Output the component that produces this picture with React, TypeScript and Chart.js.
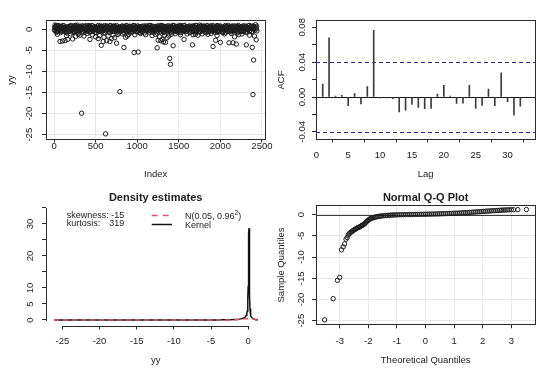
import React, { useEffect, useRef } from 'react';
import { Chart, registerables } from 'chart.js';
Chart.register(...registerables);

const W = 540;
const H = 371;
const FONT = '"Liberation Sans", Arial, Helvetica, sans-serif';
const INK = '#1c1c1c';
const AXIS = '#2b2b2b';
const GRID = '#e8e8e8';

// ---------------- data ----------------
// top-left: series yy against its index (dense core sampled on two interleaved index grids + outliers)
const yyCoreStep = 8;
const yyCoreAStart = 8;
const yyCoreA = [
  0.4, -0.3, 0.7, 0.1, -0.6, 0.9, 0.2, -0.1, 0.5, -0.8,
  0.3, 0.6, -0.4, 0.0, 0.8, -0.2, 0.4, -0.7, 0.2, 0.6,
  -0.5, 0.1, 0.7, -0.3, 0.5, 0.9, -0.1, 0.3, -0.6, 0.2,
  0.8, -0.4, 0.0, 0.6, -0.2, 0.4, -0.9, 0.3, 0.7, -0.1,
  0.2, 0.5, -0.6, 0.8, 0.1, -0.3, 0.6, 0.0, -0.5, 0.4,
  0.7, -0.2, 0.3, -0.7, 0.5, 0.1, 0.9, -0.4, 0.2, 0.6,
  -0.1, 0.4, -0.8, 0.3, 0.7, -0.3, 0.0, 0.5, -0.5, 0.8,
  0.1, -0.6, 0.6, 0.2, -0.2, 0.9, 0.3, -0.4, 0.5, 0.0,
  0.6, -0.1, 0.3, -0.7, 0.8, 0.2, -0.3, 0.4, 0.7, -0.5,
  0.2, 0.5, -0.2, 0.9, -0.6, 0.1, 0.4, -0.1, 0.6, 0.3,
  -0.4, 0.7, 0.0, 0.5, -0.8, 0.3, 0.6, -0.2, 0.1, 0.8,
  0.4, -0.5, 0.2, 0.7, -0.1, 0.5, -0.7, 0.0, 0.9, 0.3,
  -0.3, 0.6, 0.1, -0.6, 0.4, 0.8, -0.2, 0.3, 0.5, -0.4,
  0.7, 0.0, -0.5, 0.6, 0.2, -0.9, 0.4, 0.8, -0.1, 0.3,
  0.5, -0.3, 0.9, 0.1, -0.4, 0.6, 0.2, -0.7, 0.7, 0.0,
  -0.2, 0.4, 0.6, -0.5, 0.3, 0.8, -0.1, 0.5, 0.1, -0.6,
  0.9, 0.2, -0.3, 0.7, -0.8, 0.4, 0.0, 0.6, -0.2, 0.3,
  0.1, -0.4, 0.8, 0.3, -0.6, 0.5, 0.7, -0.1, 0.2, 0.9,
  -0.5, 0.4, 0.1, 0.6, -0.3, 0.0, 0.8, -0.7, 0.5, 0.2,
  0.3, 0.7, -0.2, 0.4, -0.5, 0.9, 0.1, 0.6, -0.4, 0.0,
  0.6, -0.1, 0.5, -0.8, 0.2, 0.7, -0.3, 0.4, 0.8, -0.6,
  0.0, 0.3, -0.5, 0.9, 0.1, -0.2, 0.6, 0.4, -0.7, 0.5,
  0.8, -0.3, 0.2, 0.5, -0.1, 0.7, -0.6, 0.3, 0.0, 0.9,
  -0.4, 0.6, 0.1, -0.2, 0.8, 0.4, -0.5, 0.2, 0.7, -0.1,
  0.3, -0.7, 0.5, 0.0, 0.9, -0.3, 0.6, 0.1, -0.4, 0.8,
  0.2, 0.5, -0.6, 0.4, -0.1, 0.7, 0.3, -0.8, 0.6, 0.0,
  -0.2, 0.9, 0.4, -0.5, 0.1, 0.6, -0.3, 0.8, 0.2, -0.1,
  0.5, 0.0, -0.4, 0.7, 0.3, -0.6, 0.9, 0.1, -0.2, 0.4,
  0.6, -0.5, 0.2, 0.8, -0.3, 0.0, 0.5, -0.7, 0.7, 0.3,
  -0.1, 0.4, 0.9, -0.4, 0.6, 0.2, -0.6, 0.3, 0.8, 0.1,
];
const yyCoreBStart = 4;
const yyCoreB = [
  -0.2, 0.5, 0.1, -0.7, 0.6, 0.3, -0.4, 0.8, 0.0, -0.3,
  0.7, -0.5, 0.2, 0.9, -0.1, 0.4, -0.6, 0.1, 0.5, -0.9,
  0.3, 0.0, -0.4, 0.6, 0.8, -0.2, 0.2, -0.7, 0.4, 0.7,
  -0.6, 0.3, 0.9, -0.1, 0.1, -0.5, 0.6, 0.2, -0.3, 0.5,
  0.0, 0.8, -0.4, 0.3, -0.8, 0.6, 0.1, -0.2, 0.9, 0.4,
  -0.3, 0.2, 0.7, -0.6, 0.0, 0.5, -0.1, 0.8, -0.5, 0.1,
  0.6, -0.7, 0.4, 0.1, -0.2, 0.3, 0.9, -0.4, 0.2, -0.1,
  0.5, 0.7, -0.3, 0.0, 0.6, -0.8, 0.3, 0.5, -0.2, 0.8,
  -0.1, 0.4, -0.6, 0.2, 0.9, -0.3, 0.1, 0.7, -0.5, 0.3,
  0.8, -0.2, 0.0, 0.6, -0.4, 0.2, 0.5, -0.9, 0.4, 0.1,
  -0.5, 0.3, 0.8, -0.1, 0.6, 0.0, -0.3, 0.4, 0.9, -0.6,
  0.2, 0.5, -0.2, 0.7, -0.7, 0.1, 0.3, -0.4, 0.6, 0.0,
  0.9, -0.1, 0.4, -0.5, 0.2, 0.7, -0.3, 0.1, 0.5, -0.8,
  0.3, 0.6, -0.6, 0.0, 0.8, -0.2, 0.4, 0.2, -0.4, 0.7,
  -0.1, 0.1, 0.5, -0.7, 0.3, 0.9, -0.5, 0.6, 0.0, -0.2,
  0.4, -0.3, 0.7, 0.2, -0.9, 0.5, 0.1, -0.1, 0.8, 0.3,
  -0.4, 0.6, 0.0, 0.4, -0.6, 0.2, 0.7, -0.2, 0.1, 0.5,
  0.8, -0.5, 0.3, -0.1, 0.6, 0.0, -0.7, 0.4, 0.9, -0.3,
  0.2, 0.1, -0.4, 0.7, 0.3, -0.6, 0.5, 0.0, -0.2, 0.8,
  -0.8, 0.4, 0.6, -0.3, 0.1, 0.9, -0.1, 0.3, -0.5, 0.2,
  0.5, -0.2, 0.0, 0.8, -0.6, 0.4, 0.2, -0.4, 0.7, 0.1,
  -0.3, 0.6, 0.9, -0.7, 0.3, 0.0, 0.5, -0.1, 0.2, -0.5,
  0.7, 0.1, -0.4, 0.4, 0.8, -0.2, 0.0, 0.6, -0.8, 0.3,
  0.2, -0.6, 0.5, 0.1, -0.3, 0.7, 0.4, -0.1, 0.9, -0.4,
  0.0, 0.5, -0.2, 0.6, 0.3, -0.7, 0.8, 0.1, -0.5, 0.4,
  0.6, -0.1, 0.3, -0.8, 0.2, 0.5, -0.3, 0.9, 0.0, 0.7,
  -0.5, 0.2, 0.4, -0.2, 0.7, 0.1, -0.6, 0.3, 0.6, -0.4,
  0.1, 0.8, -0.3, 0.5, 0.0, -0.9, 0.4, 0.2, 0.7, -0.1,
  0.4, -0.4, 0.6, 0.1, -0.5, 0.3, 0.8, -0.2, 0.5, 0.0,
  -0.7, 0.3, 0.1, 0.9, -0.3, 0.6, 0.2, -0.6, 0.4, 0.7,
];
const yyOutliers: [number, number][] = [
  [332, -19.9], [620, -24.8], [792, -14.8], [2392, -15.5], [1392, -6.9], [1400, -8.3], [2400, -7.3],
  [964, -5.5], [1012, -5.4], [840, -4.3], [568, -3.8], [752, -3.3], [1240, -4.4], [1432, -3.9],
  [1564, -2.4], [1664, -3.7], [1912, -4.1], [1944, -2.6], [2000, -3.1], [2104, -3.2], [2152, -3.2],
  [2192, -3.5], [2312, -3.7], [2384, -4.3], [2432, -2.5],
  [72, -2.9], [100, -2.8], [132, -2.7], [164, -2.4], [224, -2.3], [312, -1.4], [432, -2.4],
  [532, -2.2], [592, -2.9], [632, -2.7], [672, -2.9], [692, -2.2], [880, -1.6], [1252, -2.6],
  [1284, -2.7], [1300, -2.4], [1316, -3.0], [1340, -3.1], [1100, -1.3], [972, -1.3], [1672, -1.3],
  [40, -1.2], [150, -1.5], [200, -1.1], [260, -1.7], [290, -1.2], [360, -1.6], [400, -1.0],
  [460, -1.3], [500, -1.8], [548, -1.5], [600, -1.9], [650, -1.6], [710, -1.4], [730, -2.0],
  [770, -1.2], [820, -1.1], [860, -1.9], [900, -1.2], [1040, -1.0], [1180, -1.5], [1220, -1.2],
  [1270, -1.8], [1330, -1.4], [1360, -2.0], [1380, -1.6], [1410, -1.2], [1460, -1.0], [1520, -1.3],
  [1600, -1.1], [1700, -1.2], [1730, -1.4], [1780, -1.1], [1850, -1.2], [1890, -1.0], [1960, -1.5],
  [2050, -1.1], [2130, -1.0], [2170, -1.8], [2220, -1.3], [2260, -1.1], [2350, -1.4], [2410, -1.6],
  [12, 1.0], [30, 0.9], [280, 1.0], [420, 0.9], [1752, 1.0], [2424, 1.1], [1296, 0.9], [1524, 0.9],
  [2408, 0.3], [2416, -0.2], [2426, 0.5], [2434, 0.1], [2440, -0.4], [2438, 0.7],
];
const indexTicks = [0, 500, 1000, 1500, 2000, 2500];
const yyTicks = [-25, -20, -15, -10, -5, 0];

// top-right: ACF
const acfLags = [1, 2, 3, 4, 5, 6, 7, 8, 9, 10, 11, 12, 13, 14, 15, 16, 17, 18, 19, 20, 21, 22, 23, 24, 25, 26, 27, 28, 29, 30, 31, 32];
const acfValues = [
  0.015, 0.068, 0.001, 0.002, -0.010, 0.004, -0.008, 0.012, 0.0765, -0.001, -0.001, -0.002,
  -0.017, -0.015, -0.0085, -0.012, -0.0135, -0.013, 0.0035, 0.0135, 0.001, -0.0072, -0.007, 0.0135,
  -0.013, -0.0095, 0.0092, -0.0098, 0.0277, -0.0053, -0.0207, -0.0104,
];
const acfCI = 0.0397;
const lagTicks = [0, 5, 10, 15, 20, 25, 30];
const acfTicks = [-0.04, -0.02, 0, 0.02, 0.04, 0.06, 0.08];
const acfTickLabels = ['-0.04', '', '0.00', '', '0.04', '', '0.08'];

// bottom-left: density estimates
const kdeX = [
  -26.1, -25, -24, -22, -20, -18, -16, -15, -14, -12,
  -10, -8, -7, -6, -5, -4, -3.5, -3, -2.5, -2,
  -1.6, -1.3, -1.0, -0.8, -0.6, -0.45, -0.35, -0.25, -0.18, -0.12,
  -0.07, -0.03, 0.0, 0.03, 0.06, 0.09, 0.12, 0.15, 0.18, 0.21,
  0.25, 0.3, 0.37, 0.45, 0.55, 0.7, 0.85, 1.0, 1.15, 1.3,
];
const kdeY = [
  0, 0.01, 0, 0, 0.01, 0, 0.01, 0.01, 0, 0,
  0, 0.01, 0.02, 0.01, 0.02, 0.03, 0.04, 0.06, 0.08, 0.12,
  0.18, 0.25, 0.35, 0.45, 0.6, 0.85, 1.1, 1.5, 2.0, 2.8,
  4.0, 6.5, 10.5, 16, 21, 27, 28.7, 24, 15, 7.5,
  3.5, 2.0, 1.3, 0.9, 0.6, 0.35, 0.2, 0.1, 0.04, 0.01,
];
const normX = [-26.1, -10, -5, -3, -2.5, -2, -1.5, -1, -0.5, 0, 0.5, 1, 1.3];
const normY = [0, 0, 0, 0.003, 0.013, 0.043, 0.113, 0.229, 0.353, 0.415, 0.372, 0.255, 0.178];
const skewnessText = '-15';
const kurtosisText = '319';
const densXTicks = [-25, -20, -15, -10, -5, 0];
const densYTicks = [0, 5, 10, 15, 20, 25, 30, 35];
const densYTickLabels = ['0', '5', '10', '', '20', '', '30', ''];

// bottom-right: normal Q-Q (theoretical, sample)
const qqPoints: [number, number][] = [
  [-3.53, -24.8], [-3.23, -19.8], [-3.08, -15.5], [-3.0, -14.8], [-2.94, -8.3], [-2.88, -7.6],
  [-2.83, -6.9], [-2.78, -5.8], [-2.74, -5.4], [-2.7, -4.8], [-2.67, -4.5],
  [-2.64, -4.3], [-2.61, -4.15], [-2.58, -4.0], [-2.55, -3.85], [-2.52, -3.7], [-2.49, -3.55],
  [-2.46, -3.45], [-2.43, -3.35], [-2.4, -3.2], [-2.37, -3.1], [-2.34, -3.0], [-2.31, -2.9],
  [-2.28, -2.8], [-2.25, -2.65], [-2.22, -2.55], [-2.19, -2.45], [-2.16, -2.3], [-2.13, -2.15],
  [-2.1, -1.95], [-2.07, -1.7], [-2.04, -1.5], [-2.01, -1.35], [-1.98, -1.2], [-1.95, -1.05],
  [-1.92, -0.95], [-1.88, -0.85], [-1.84, -0.75], [-1.8, -0.66], [-1.76, -0.58], [-1.72, -0.52],
  [-1.67, -0.46], [-1.62, -0.4], [-1.57, -0.35], [-1.52, -0.3], [-1.46, -0.26], [-1.4, -0.22],
  [-1.34, -0.18], [-1.28, -0.15], [-1.22, -0.12], [-1.16, -0.1], [-1.1, -0.08], [-1.04, -0.06],
  [-0.97, -0.04], [-0.9, -0.03], [-0.83, -0.02], [-0.76, -0.01], [-0.69, 0.0], [-0.62, 0.01],
  [-0.55, 0.02], [-0.48, 0.03], [-0.41, 0.04], [-0.34, 0.05], [-0.27, 0.06], [-0.2, 0.07],
  [-0.13, 0.08], [-0.06, 0.09], [0.01, 0.1], [0.08, 0.11], [0.15, 0.12], [0.22, 0.13],
  [0.29, 0.14], [0.36, 0.16], [0.43, 0.17], [0.5, 0.19], [0.57, 0.2], [0.64, 0.22],
  [0.71, 0.24], [0.78, 0.26], [0.85, 0.28], [0.92, 0.3], [0.99, 0.32], [1.06, 0.34],
  [1.13, 0.36], [1.2, 0.38], [1.27, 0.41], [1.34, 0.44], [1.41, 0.47], [1.48, 0.5],
  [1.55, 0.53], [1.62, 0.56], [1.69, 0.6], [1.76, 0.63], [1.83, 0.67], [1.9, 0.7],
  [1.97, 0.74], [2.04, 0.77], [2.11, 0.81], [2.18, 0.84], [2.25, 0.87], [2.32, 0.9],
  [2.39, 0.93], [2.46, 0.96], [2.53, 0.99], [2.6, 1.02], [2.66, 1.05], [2.72, 1.08],
  [2.78, 1.1], [2.85, 1.12], [2.92, 1.14], [3.0, 1.15], [3.08, 1.16], [3.23, 1.18], [3.53, 1.2],
];
const qqXTicks = [-3, -2, -1, 0, 1, 2, 3];
const qqYTicks = [-25, -20, -15, -10, -5, 0];

// ---------------- helpers ----------------
type Area = { l: number; r: number; t: number; b: number };
type Txt = { text: string; x: number; y: number; size: number; bold?: boolean; rot?: boolean; align?: CanvasTextAlign };

const crisp = (v: number) => Math.round(v) + 0.5;

function seg(ctx: CanvasRenderingContext2D, x0: number, y0: number, x1: number, y1: number) {
  ctx.beginPath();
  ctx.moveTo(x0, y0);
  ctx.lineTo(x1, y1);
  ctx.stroke();
}

function axis(min: number, max: number, tickVals: number[], grid: boolean, isX: boolean) {
  return {
    type: 'linear',
    position: isX ? 'bottom' : 'left',
    min,
    max,
    offset: false,
    ticks: { display: false, autoSkip: false },
    afterBuildTicks: (s: any) => {
      s.ticks = tickVals.map((v) => ({ value: v }));
    },
    grid: {
      display: true,
      drawOnChartArea: grid,
      drawTicks: true,
      tickLength: 4,
      color: GRID,
      tickColor: AXIS,
      lineWidth: 1,
      tickWidth: 1,
    },
    border: { display: false },
    afterFit: (s: any) => {
      if (isX) s.height = 10;
      else s.width = 10;
    },
  };
}

function base(a: Area, x: any, y: any) {
  return {
    responsive: false,
    animation: false,
    devicePixelRatio: 1,
    events: [],
    layout: { padding: { left: a.l - 10, right: W - a.r, top: a.t, bottom: H - a.b - 10 } },
    plugins: { legend: { display: false }, tooltip: { enabled: false }, title: { display: false } },
    scales: { x, y },
  };
}

type RCfg = {
  box?: boolean;
  axisLines?: boolean;
  xLabelY: number;
  yLabelX: number;
  tickSize: number;
  xLabels?: string[];
  yLabels?: string[];
  hLines?: { value: number; color: string; width?: number; dash?: number[] }[];
  texts?: Txt[];
  draw?: (ctx: CanvasRenderingContext2D, chart: any) => void;
};

function makeR(o: RCfg) {
  return {
    id: 'rPlot',
    beforeDatasetsDraw(chart: any) {
      const ctx = chart.ctx as CanvasRenderingContext2D;
      const ca = chart.chartArea;
      const ys = chart.scales.y;
      (o.hLines || []).forEach((h) => {
        ctx.save();
        ctx.strokeStyle = h.color;
        ctx.lineWidth = h.width || 1;
        ctx.setLineDash(h.dash || []);
        const y = crisp(ys.getPixelForValue(h.value));
        seg(ctx, ca.left, y, ca.right, y);
        ctx.restore();
      });
    },
    afterDraw(chart: any) {
      const ctx = chart.ctx as CanvasRenderingContext2D;
      const ca = chart.chartArea;
      const xs = chart.scales.x;
      const ys = chart.scales.y;
      ctx.save();
      ctx.strokeStyle = AXIS;
      ctx.lineWidth = 1;
      if (o.box) {
        ctx.strokeRect(crisp(ca.left), crisp(ca.top), Math.round(ca.right) - Math.round(ca.left), Math.round(ca.bottom) - Math.round(ca.top));
      }
      if (o.axisLines) {
        const xt = xs.ticks;
        const yt = ys.ticks;
        const by = crisp(ca.bottom);
        seg(ctx, xs.getPixelForValue(xt[0].value), by, xs.getPixelForValue(xt[xt.length - 1].value) + 1, by);
        const lx = crisp(ca.left);
        seg(ctx, lx, ys.getPixelForValue(yt[0].value) + 1, lx, ys.getPixelForValue(yt[yt.length - 1].value));
      }
      ctx.fillStyle = INK;
      ctx.font = `${o.tickSize}px ${FONT}`;
      ctx.textAlign = 'center';
      ctx.textBaseline = 'alphabetic';
      xs.ticks.forEach((t: any, i: number) => {
        const s = o.xLabels ? o.xLabels[i] : String(t.value);
        if (!s) return;
        ctx.fillText(s, xs.getPixelForValue(t.value), o.xLabelY);
      });
      ys.ticks.forEach((t: any, i: number) => {
        const s = o.yLabels ? o.yLabels[i] : String(t.value);
        if (!s) return;
        ctx.save();
        ctx.translate(o.yLabelX, ys.getPixelForValue(t.value));
        ctx.rotate(-Math.PI / 2);
        ctx.textBaseline = 'middle';
        ctx.fillText(s, 0, 0);
        ctx.restore();
      });
      (o.texts || []).forEach((tx) => {
        ctx.save();
        ctx.font = `${tx.bold ? 'bold ' : ''}${tx.size}px ${FONT}`;
        ctx.textAlign = tx.align || 'center';
        if (tx.rot) {
          ctx.translate(tx.x, tx.y);
          ctx.rotate(-Math.PI / 2);
          ctx.textBaseline = 'middle';
          ctx.fillText(tx.text, 0, 0);
        } else {
          ctx.textBaseline = 'alphabetic';
          ctx.fillText(tx.text, tx.x, tx.y);
        }
        ctx.restore();
      });
      if (o.draw) o.draw(ctx, chart);
      ctx.restore();
    },
  };
}

const POINT = {
  pointStyle: 'circle',
  pointRadius: 2.2,
  pointBorderWidth: 1,
  borderColor: INK,
  pointBorderColor: INK,
  backgroundColor: 'rgba(0,0,0,0)',
  pointBackgroundColor: 'rgba(0,0,0,0)',
};

const A_TL: Area = { l: 46, r: 265, t: 20, b: 138.5 };
const A_TR: Area = { l: 316, r: 535, t: 20, b: 138.5 };
const A_BL: Area = { l: 46, r: 266, t: 203.5, b: 325.5 };
const A_BR: Area = { l: 316, r: 535, t: 205.3, b: 324.3 };

function cfgIndex(): any {
  const pts: { x: number; y: number }[] = [];
  yyCoreA.forEach((v, i) => pts.push({ x: yyCoreAStart + i * yyCoreStep, y: v }));
  yyCoreB.forEach((v, i) => pts.push({ x: yyCoreBStart + i * yyCoreStep, y: v }));
  yyOutliers.forEach(([x, y]) => pts.push({ x, y }));
  return {
    type: 'scatter',
    data: { datasets: [{ data: pts, ...POINT }] },
    options: base(A_TL, axis(-96.6, 2537, indexTicks, true, true), axis(-25.9, 2.2, yyTicks, true, false)),
    plugins: [
      makeR({
        box: true,
        xLabelY: 149,
        yLabelX: 29.5,
        tickSize: 9.5,
        texts: [
          { text: 'Index', x: 155.7, y: 177, size: 9.5 },
          { text: 'yy', x: 11.7, y: 80, size: 9.5, rot: true },
        ],
      }),
    ],
  };
}

function cfgAcf(): any {
  return {
    type: 'bar',
    data: {
      datasets: [
        {
          data: acfLags.map((l, i) => ({ x: l, y: acfValues[i] })),
          backgroundColor: '#3c3c3c',
          borderWidth: 0,
          barThickness: 1,
        },
      ],
    },
    options: base(A_TR, axis(-0.05, 34.3, lagTicks, false, true), axis(-0.0476, 0.0884, acfTicks, false, false)),
    plugins: [
      makeR({
        box: true,
        xLabelY: 157.5,
        yLabelX: 302,
        tickSize: 9.5,
        yLabels: acfTickLabels,
        hLines: [
          { value: 0, color: '#1a1a1a' },
          { value: acfCI, color: '#2a2aa0', dash: [4, 3] },
          { value: -acfCI, color: '#2a2aa0', dash: [4, 3] },
        ],
        texts: [
          { text: 'Lag', x: 425.7, y: 177, size: 9.5 },
          { text: 'ACF', x: 281, y: 80, size: 9.5, rot: true },
        ],
      }),
    ],
  };
}

function cfgDensity(): any {
  return {
    type: 'scatter',
    data: {
      datasets: [
        {
          data: normX.map((x, i) => ({ x, y: normY[i] })),
          showLine: true,
          pointRadius: 0,
          borderColor: '#DF536B',
          borderWidth: 1.5,
          borderDash: [5, 4],
        },
        {
          data: kdeX.map((x, i) => ({ x, y: kdeY[i] })),
          showLine: true,
          pointRadius: 0,
          borderColor: '#111',
          borderWidth: 1.5,
        },
      ],
    },
    options: base(A_BL, axis(-27.2, 2.4, densXTicks, false, true), axis(-1.72, 36.4, densYTicks, false, false)),
    plugins: [
      makeR({
        axisLines: true,
        xLabelY: 344,
        yLabelX: 30.5,
        tickSize: 9.5,
        yLabels: densYTickLabels,
        texts: [
          { text: 'Density estimates', x: 155.7, y: 200.5, size: 11, bold: true },
          { text: 'yy', x: 155.7, y: 363, size: 9.5 },
        ],
        draw: (ctx) => {
          ctx.save();
          ctx.font = `9px ${FONT}`;
          ctx.fillStyle = INK;
          ctx.textBaseline = 'alphabetic';
          ctx.textAlign = 'left';
          const s1 = 'skewness: ' + skewnessText;
          ctx.fillText(s1, 66.7, 218);
          const right = 66.7 + ctx.measureText(s1).width;
          ctx.fillText('kurtosis:', 66.7, 225.6);
          ctx.textAlign = 'right';
          ctx.fillText(kurtosisText, right, 225.6);
          ctx.lineWidth = 1.5;
          ctx.strokeStyle = '#DF536B';
          ctx.setLineDash([6, 5]);
          seg(ctx, 151.7, 215.5, 172, 215.5);
          ctx.setLineDash([]);
          ctx.strokeStyle = '#111';
          seg(ctx, 151.7, 224.5, 172, 224.5);
          ctx.textAlign = 'left';
          const a = 'N(0.05, 0.96';
          ctx.fillText(a, 185, 219);
          let x = 185 + ctx.measureText(a).width;
          ctx.font = `6.5px ${FONT}`;
          ctx.fillText('2', x, 215);
          x += ctx.measureText('2').width;
          ctx.font = `9px ${FONT}`;
          ctx.fillText(')', x, 219);
          ctx.fillText('Kernel', 185, 228);
          ctx.restore();
        },
      }),
    ],
  };
}

function cfgQQ(): any {
  return {
    type: 'scatter',
    data: { datasets: [{ data: qqPoints.map(([x, y]) => ({ x, y })), ...POINT }] },
    options: base(A_BR, axis(-3.83, 3.83, qqXTicks, true, true), axis(-25.85, 2.2, qqYTicks, true, false)),
    plugins: [
      makeR({
        box: true,
        xLabelY: 344,
        yLabelX: 301.5,
        tickSize: 9.5,
        hLines: [{ value: 0, color: '#3a3a3a' }],
        texts: [
          { text: 'Normal Q-Q Plot', x: 425.7, y: 200.5, size: 11, bold: true },
          { text: 'Theoretical Quantiles', x: 425.7, y: 363, size: 9.5 },
          { text: 'Sample Quantiles', x: 281, y: 265, size: 9.5, rot: true },
        ],
      }),
    ],
  };
}

export default function App() {
  const r1 = useRef<HTMLCanvasElement>(null);
  const r2 = useRef<HTMLCanvasElement>(null);
  const r3 = useRef<HTMLCanvasElement>(null);
  const r4 = useRef<HTMLCanvasElement>(null);

  useEffect(() => {
    const charts: Chart[] = [];
    if (r1.current) charts.push(new Chart(r1.current, cfgIndex()));
    if (r2.current) charts.push(new Chart(r2.current, cfgAcf()));
    if (r3.current) charts.push(new Chart(r3.current, cfgDensity()));
    if (r4.current) charts.push(new Chart(r4.current, cfgQQ()));
    return () => charts.forEach((c) => c.destroy());
  }, []);

  const cs: React.CSSProperties = { position: 'absolute', left: 0, top: 0, width: W, height: H };
  return (
    <div style={{ position: 'fixed', left: 0, top: 0, width: W, height: H, background: '#fff', overflow: 'hidden' }}>
      <canvas ref={r1} width={W} height={H} style={cs} />
      <canvas ref={r2} width={W} height={H} style={cs} />
      <canvas ref={r3} width={W} height={H} style={cs} />
      <canvas ref={r4} width={W} height={H} style={cs} />
    </div>
  );
}
